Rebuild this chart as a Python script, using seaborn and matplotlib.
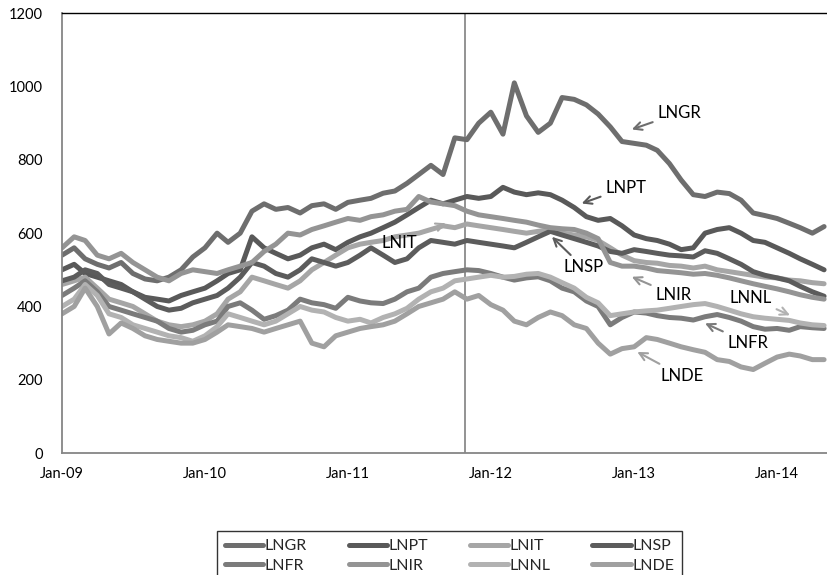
import pandas as pd
import numpy as np
import seaborn as sns
import matplotlib.pyplot as plt
import matplotlib.dates as mdates
from matplotlib.lines import Line2D

dates = pd.date_range('2009-01-01', periods=65, freq='MS')

lngr = [540, 560, 530, 515, 505, 520, 490, 475, 470, 480, 500, 535,
        560, 600, 575, 600, 660, 680, 665, 670, 655, 675, 680, 665,
        684, 690, 695, 709, 715, 736, 760, 785, 760, 860, 855, 900,
        930, 870, 1010, 920, 875, 900, 970, 965, 950, 925, 890, 850,
        845, 840, 826, 790, 745, 705, 700, 712, 708, 690, 655, 648, 640, 627, 615, 600, 618]
lnpt = [500, 515, 490, 480, 470, 460, 440, 425, 420, 415, 430, 440,
        450, 470, 490, 500, 590, 560, 545, 530, 540, 560, 570, 555,
        575, 590, 600, 615, 630, 650, 670, 690, 680, 690, 700, 695,
        700, 725, 712, 705, 710, 705, 690, 670, 645, 635, 640, 620,
        595, 585, 580, 570, 555, 560, 600, 610, 615, 600, 580, 575, 560, 545, 530, 515, 500]
lnit = [460, 470, 480, 450, 420, 410, 400, 380, 360, 350, 345, 350,
        360, 380, 420, 440, 480, 470, 460, 450, 470, 500, 520, 540,
        560, 570, 575, 580, 590, 595, 600, 610, 620, 615, 625, 620,
        615, 610, 605, 600, 605, 610, 600, 595, 590, 580, 560, 540,
        525, 520, 518, 512, 510, 505, 510, 500, 495, 490, 485, 480, 478, 472, 470, 465, 462]
lnsp = [470, 480, 500, 490, 460, 450, 440, 420, 400, 390, 395, 410,
        420, 430, 450, 480, 520, 510, 490, 480, 500, 530, 520, 510,
        520, 540, 560, 540, 520, 530, 560, 580, 575, 570, 580, 575,
        570, 565, 560, 575, 590, 605, 595, 585, 575, 565, 550, 545,
        555, 550, 545, 540, 538, 535, 552, 545, 530, 515, 495, 485, 478, 470, 455, 440, 428]
lnfr = [430, 450, 470, 440, 400, 390, 380, 370, 360, 340, 330, 335,
        350, 360, 400, 410, 390, 365, 375, 390, 420, 410, 405, 395,
        425, 415, 410, 408, 420, 440, 450, 480, 490, 495, 500, 498,
        490, 480, 472, 478, 481, 470, 450, 440, 415, 400, 350, 370,
        385, 382, 375, 370, 368, 363, 372, 378, 370, 360, 345, 338, 340, 335, 345, 342, 340]
lnir = [560, 590, 580, 540, 530, 545, 520, 500, 480, 470, 490, 500,
        495, 490, 500, 510, 520, 550, 570, 600, 595, 610, 620, 630,
        640, 635, 645, 650, 660, 665, 700, 685, 680, 675, 660, 650,
        645, 640, 635, 630, 622, 615, 612, 610, 600, 585, 520, 510,
        510, 505, 498, 495, 492, 488, 490, 485, 478, 470, 462, 455, 448, 440, 432, 425, 420]
lnnl = [400, 420, 460, 430, 380, 370, 350, 340, 330, 320, 315, 305,
        320, 345, 380, 370, 360, 350, 360, 380, 400, 390, 385, 370,
        360, 365, 355, 370, 380, 395, 420, 440, 450, 470, 475, 480,
        485, 480, 482, 488, 490, 480, 465, 450, 425, 410, 375, 380,
        385, 388, 390, 395, 400, 405, 408, 400, 390, 380, 372, 368, 365, 362, 355, 350, 348]
lnde = [380, 400, 450, 400, 325, 355, 340, 320, 310, 305, 300, 300,
        310, 330, 350, 345, 340, 330, 340, 350, 360, 300, 290, 320,
        330, 340, 345, 350, 360, 380, 400, 410, 420, 440, 420, 430,
        405, 390, 360, 350, 370, 385, 375, 350, 340, 300, 270, 285,
        290, 315, 310, 300, 290, 282, 275, 255, 250, 235, 228, 245, 262, 270, 265, 255, 255]

names = ['LNGR', 'LNPT', 'LNIT', 'LNSP', 'LNFR', 'LNIR', 'LNNL', 'LNDE']
series = [lngr, lnpt, lnit, lnsp, lnfr, lnir, lnnl, lnde]
colors = ['#6e6e6e', '#595959', '#a6a6a6', '#5c5c5c', '#7b7b7b', '#949494', '#b2b2b2', '#a0a0a0']

df = pd.concat([pd.DataFrame({'date': dates, 'value': v, 'series': n})
                for n, v in zip(names, series)], ignore_index=True)

sns.set_style('white')
plt.rcParams['font.family'] = ['Lato', 'DejaVu Sans']

fig = plt.figure(figsize=(8.28, 5.75), dpi=100)
ax = fig.add_axes([0.0749, 0.212, 0.9251, 0.765])

sns.lineplot(data=df, x='date', y='value', hue='series', hue_order=names,
             palette=dict(zip(names, colors)), linewidth=3.6, legend=False, ax=ax)

# vertical marker line
ax.axvline(pd.Timestamp('2011-10-27'), color='#808080', linewidth=1.2, zorder=0)

ax.set_ylim(0, 1200)
ax.set_yticks(range(0, 1201, 200))
ax.set_xlim(pd.Timestamp('2009-01-01'), pd.Timestamp('2014-05-11'))
ax.xaxis.set_major_locator(mdates.YearLocator())
ax.xaxis.set_major_formatter(mdates.DateFormatter('%b-%y'))
ax.set_xlabel('')
ax.set_ylabel('')

for side in ['left', 'bottom']:
    ax.spines[side].set_color('#868686')
    ax.spines[side].set_linewidth(1.3)
ax.spines['top'].set_color('black')
ax.spines['top'].set_linewidth(1.0)
ax.spines['right'].set_visible(False)
ax.tick_params(axis='both', direction='out', length=5, width=1.2, color='#868686',
               labelsize=10.5, labelcolor='black')
ax.tick_params(axis='y', pad=9)
ax.tick_params(axis='x', pad=5)

# labels with arrows: (name, arrow tip date, tip value, text date, text value, ha)
notes = [
    ('LNGR', '2012-12-26', 883, '2013-03-01', 928, 'left'),
    ('LNPT', '2012-08-20', 681, '2012-10-19', 724, 'left'),
    ('LNIT', '2011-09-08', 627, '2011-06-26', 574, 'right'),
    ('LNSP', '2012-06-05', 590, '2012-07-04', 507, 'left'),
    ('LNIR', '2012-12-26', 481, '2013-02-24', 432, 'left'),
    ('LNNL', '2014-02-03', 376, '2013-12-19', 424, 'right'),
    ('LNFR', '2013-07-01', 354, '2013-08-27', 301, 'left'),
    ('LNDE', '2013-01-09', 276, '2013-03-08', 211, 'left'),
]
col = dict(zip(names, colors))
for n, xd, yv, xt, yt, ha in notes:
    ax.annotate(n, xy=(pd.Timestamp(xd), yv), xytext=(pd.Timestamp(xt), yt),
                ha=ha, va='center', fontsize=12, color='black',
                arrowprops=dict(arrowstyle='->', color=col[n], lw=1.5,
                                shrinkA=1, shrinkB=0, mutation_scale=14))

# legend fills column by column, so interleave to get the two rows right
order = [0, 4, 1, 5, 2, 6, 3, 7]
handles = [Line2D([], [], color=colors[i], linewidth=3.6) for i in order]
labels = [names[i] for i in order]
leg = fig.legend(handles, labels, ncol=4, loc='upper center',
                 bbox_to_anchor=(0.543, 0.0904), frameon=True, fancybox=False,
                 fontsize=11.5, handlelength=2.4, handletextpad=0.1,
                 columnspacing=2.6, borderpad=0.5, labelspacing=0.35)
leg.get_frame().set_edgecolor('black')
leg.get_frame().set_linewidth(1.0)

fig.savefig('out.png', dpi=100)
